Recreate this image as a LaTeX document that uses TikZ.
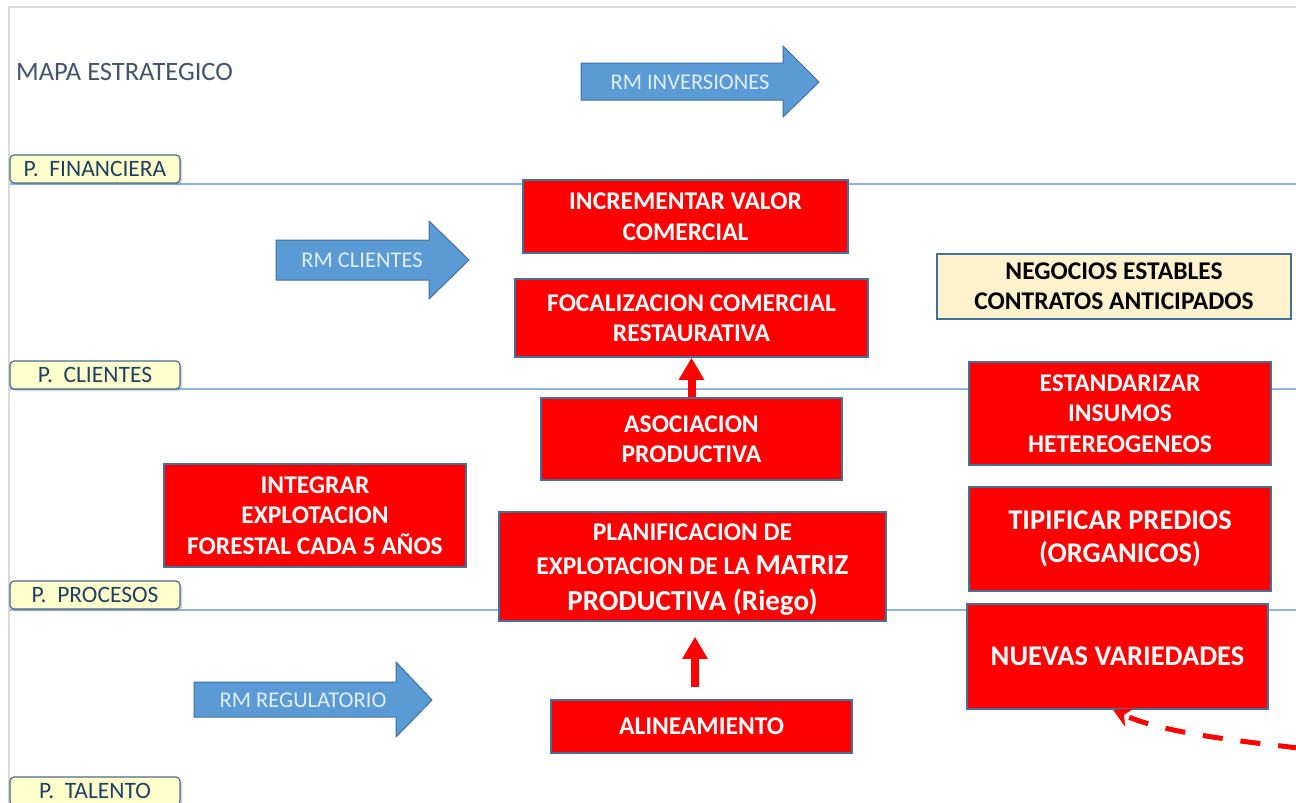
\documentclass[tikz,border=0pt]{standalone}
\usepackage{fontspec}
\setmainfont{Carlito}
\usetikzlibrary{arrows.meta,shadows}
\definecolor{boxred}{HTML}{FF0000}
\definecolor{edgeblue}{HTML}{41719C}
\definecolor{lineblue}{HTML}{8FB6E0}
\definecolor{arrowblue}{HTML}{5B9BD5}
\definecolor{arrowtext}{HTML}{E2EEF9}
\definecolor{tabfill}{HTML}{FFFFCC}
\definecolor{tabedge}{HTML}{4A6B8F}
\definecolor{tabtext}{HTML}{1F3F66}
\definecolor{titletext}{HTML}{44546A}
\definecolor{notefill}{HTML}{FFF2CC}
\definecolor{framegray}{HTML}{D9D9D9}
\begin{document}
\begin{tikzpicture}[x=1pt,y=-1pt,
  redbox/.style={draw=edgeblue, line width=1.5pt, fill=boxred, text=white,
    font=\fontsize{25.5}{30.5}\selectfont\bfseries, align=center, inner sep=0pt},
  redtext/.style={text=white, font=\fontsize{25.5}{30.5}\selectfont\bfseries, align=center, inner sep=0pt},
  bigtext/.style={font=\fontsize{28.5}{33}\selectfont\bfseries},
  notebox/.style={draw=edgeblue, line width=1.5pt, fill=notefill, text=black,
    font=\fontsize{25.5}{30}\selectfont\bfseries, align=center, inner sep=0pt},
  tabbox/.style={draw=tabedge, line width=1.2pt, fill=tabfill, text=tabtext,
    rounded corners=4pt, minimum width=170pt, minimum height=28pt, inner sep=0pt,
    font=\fontsize{23.5}{26}\selectfont,
    drop shadow={opacity=0.35, shadow xshift=2pt, shadow yshift=-2pt}},
  hline/.style={draw=lineblue, line width=2.5pt},
  bluearrow/.style={fill=arrowblue, draw=edgeblue, line width=1pt},
  arrowlabel/.style={text=arrowtext, font=\fontsize{22.5}{25}\selectfont, inner sep=0pt},
  redarrow/.style={draw=boxred, line width=8pt, -{Triangle[width=24pt,length=22pt]}},
  dasharrow/.style={draw=boxred, line width=5pt, dash pattern=on 20pt off 18pt,
    -{Stealth[width=20pt,length=18pt]}},
  framerule/.style={draw=framegray, line width=2pt}
]
\useasboundingbox (0,0) rectangle (1296,803);
\fill[white] (0,0) rectangle (1296,803);

% frame
\draw[framerule] (9,803) -- (9,7) -- (1296,7);

% title
\node[anchor=west, text=titletext, font=\fontsize{26.5}{29}\selectfont, inner sep=0pt] (title) at (16,72) {MAPA ESTRATEGICO};

% perspective rules
\draw[hline] (10,184) -- (1296,184);
\draw[hline] (10,389) -- (1296,389);
\draw[hline] (10,610) -- (1296,610);

% tabs
\node[tabbox] (tabfin) at (95,169) {P.~ FINANCIERA};
\node[tabbox] (tabcli) at (95,375) {P.~ CLIENTES};
\node[tabbox] (tabpro) at (95,595) {P.~ PROCESOS};
\node[tabbox] (tabtal) at (95,791) {P.~ TALENTO};

% blue arrows
\draw[bluearrow] (581,63) -- (783,63) -- (783,46) -- (819,82) -- (783,117) -- (783,100) -- (581,100) -- cycle;
\node[arrowlabel] (rminv) at (690,82) {RM INVERSIONES};
\draw[bluearrow] (276,240) -- (429,240) -- (429,221) -- (469,260) -- (429,299) -- (429,280) -- (276,280) -- cycle;
\node[arrowlabel] (rmcli) at (362,260) {RM CLIENTES};
\draw[bluearrow] (194,682) -- (396,682) -- (396,662) -- (432,700) -- (396,737) -- (396,717) -- (194,717) -- cycle;
\node[arrowlabel] (rmreg) at (303,700) {RM REGULATORIO};

% boxes
\node[redbox, minimum width=325pt, minimum height=73pt] (incr) at (685.5,216.5) {INCREMENTAR VALOR\\COMERCIAL};
\node[redbox, minimum width=353pt, minimum height=78pt] (foc) at (691.5,318) {FOCALIZACION COMERCIAL\\RESTAURATIVA};
\node[redbox, minimum width=301pt, minimum height=82pt] (asoc) at (691.5,439) {ASOCIACION\\PRODUCTIVA};
\node[redbox, minimum width=387pt, minimum height=109pt] (plan) at (692.5,566.5) {};
\node[redtext] (plantext) at ([yshift=-3pt]plan.center)
  {PLANIFICACION DE\\[4pt]EXPLOTACION DE LA {\fontsize{29}{33}\selectfont MATRIZ}\\[5pt]{\fontsize{29}{33}\selectfont PRODUCTIVA (Riego)}};
\node[redbox, minimum width=301pt, minimum height=53pt] (alin) at (701.5,726.5) {ALINEAMIENTO};
\node[redbox, minimum width=302pt, minimum height=103pt] (integ) at (315,515.5) {INTEGRAR\\EXPLOTACION\\FORESTAL CADA 5 AÑOS};
\node[notebox, minimum width=354pt, minimum height=65pt] (nego) at (1114,286.5) {NEGOCIOS ESTABLES\\CONTRATOS ANTICIPADOS};
\node[redbox, minimum width=302pt, minimum height=103pt] (estd) at (1120,413.5) {ESTANDARIZAR\\INSUMOS\\HETEREOGENEOS};
\node[redbox, bigtext, minimum width=302pt, minimum height=104pt] (tipi) at (1120,539) {TIPIFICAR PREDIOS\\(ORGANICOS)};
\node[redbox, bigtext, minimum width=301pt, minimum height=105pt] (nuev) at (1117.5,656.5) {NUEVAS VARIEDADES};

% red arrows
\draw[redarrow] (asoc.north) -- (foc.south);
\draw[redarrow, shorten <=12pt, shorten >=15pt] ([xshift=-6.5pt]alin.north) -- ([xshift=2.5pt]plan.south);

% dashed arrow
\coordinate (dstart) at (1298,748);
\draw[dasharrow] (dstart) .. controls (1230,740) and (1160,732) .. ([xshift=-4.5pt]nuev.south);
\end{tikzpicture}
\end{document}
